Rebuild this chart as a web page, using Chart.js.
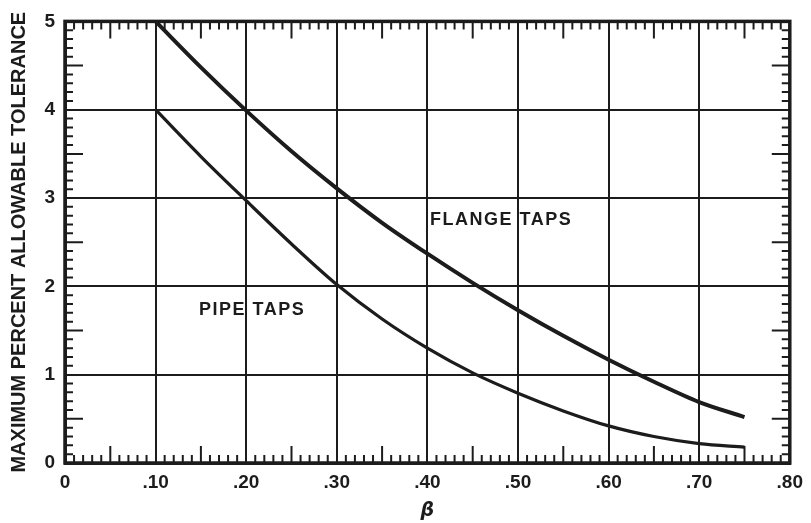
<!DOCTYPE html>
<html>
<head>
<meta charset="utf-8">
<script src="https://cdn.jsdelivr.net/npm/chart.js@4.4.1/dist/chart.umd.min.js"></script>
<style>
  html, body { margin: 0; padding: 0; background: #fff; }
  #wrap { width: 811px; height: 523px; }
</style>
</head>
<body>
<div id="wrap"><canvas id="toleranceChart" width="811" height="523"></canvas></div>
<script>
// values
let beta = [0.10, 0.15, 0.20, 0.25, 0.30, 0.35, 0.40, 0.45, 0.50, 0.55, 0.60, 0.65, 0.70, 0.75];
let flangeTaps = [5.00, 4.48, 3.99, 3.53, 3.11, 2.72, 2.37, 2.04, 1.73, 1.44, 1.17, 0.92, 0.69, 0.52];
let pipeTaps = [4.00, 3.47, 2.97, 2.48, 2.02, 1.63, 1.30, 1.02, 0.79, 0.59, 0.42, 0.30, 0.22, 0.18];

let xTickLabels = ['0', '.10', '.20', '.30', '.40', '.50', '.60', '.70', '.80'];
let yTickLabels = ['0', '1', '2', '3', '4', '5'];

const INK = '#1c1c1c';
const labelFont = { family: 'Liberation Sans, Arial, sans-serif', size: 19, weight: 'bold' };

function toPoints(xs, ys) {
    let pts = [];
    for (let i = 0; i < xs.length; i++) {
        pts.push({ x: xs[i], y: ys[i] });
    }
    return pts;
}

// small inward ticks on all four sides, plus the heavy frame and curve labels
const framePlugin = {
    id: 'framePlugin',
    afterDraw(chart) {
        const ctx = chart.ctx;
        const area = chart.chartArea;
        const xs = chart.scales.x;
        const ys = chart.scales.y;
        ctx.save();
        ctx.strokeStyle = INK;
        ctx.lineWidth = 2;
        ctx.beginPath();
        for (let i = 1; i < 80; i++) {
            if (i % 10 === 0) continue;
            let len = (i % 5 === 0) ? 17 : 8;
            let px = xs.getPixelForValue(i / 100);
            ctx.moveTo(px, area.bottom);
            ctx.lineTo(px, area.bottom - len);
            ctx.moveTo(px, area.top);
            ctx.lineTo(px, area.top + len);
        }
        for (let j = 1; j < 50; j++) {
            if (j % 10 === 0) continue;
            let len = (j % 5 === 0) ? 18 : 8;
            let py = ys.getPixelForValue(j / 10);
            ctx.moveTo(area.left, py);
            ctx.lineTo(area.left + len, py);
            ctx.moveTo(area.right, py);
            ctx.lineTo(area.right - len, py);
        }
        ctx.stroke();

        ctx.lineWidth = 3.5;
        ctx.strokeRect(area.left, area.top, area.right - area.left, area.bottom - area.top);

        ctx.fillStyle = INK;
        ctx.font = 'bold 18px "Liberation Sans", Arial, sans-serif';
        ctx.letterSpacing = '1.5px';
        ctx.textBaseline = 'middle';
        ctx.textAlign = 'left';
        ctx.fillText('FLANGE TAPS', xs.getPixelForValue(0.403), ys.getPixelForValue(2.75));
        ctx.fillText('PIPE TAPS', xs.getPixelForValue(0.148), ys.getPixelForValue(1.73));
        ctx.restore();
    }
};

const ctx = document.getElementById('toleranceChart');
const chart = new Chart(ctx, {
    type: 'line',
    data: {
        datasets: [
            {
                label: 'FLANGE TAPS',
                data: toPoints(beta, flangeTaps),
                borderColor: INK,
                borderWidth: 4,
                pointRadius: 0,
                cubicInterpolationMode: 'monotone',
                fill: false
            },
            {
                label: 'PIPE TAPS',
                data: toPoints(beta, pipeTaps),
                borderColor: INK,
                borderWidth: 3.2,
                pointRadius: 0,
                cubicInterpolationMode: 'monotone',
                fill: false
            }
        ]
    },
    options: {
        responsive: false,
        animation: false,
        layout: {
            padding: { top: 16, right: 18, bottom: 0, left: 0 }
        },
        plugins: {
            legend: { display: false },
            tooltip: { enabled: false }
        },
        scales: {
            x: {
                type: 'linear',
                min: 0,
                max: 0.8,
                afterFit: function(scale) { scale.height = 60; },
                ticks: {
                    stepSize: 0.1,
                    color: INK,
                    font: labelFont,
                    padding: 8,
                    maxRotation: 0,
                    callback: function(value) {
                        return xTickLabels[Math.round(value * 10)];
                    }
                },
                grid: { color: INK, lineWidth: 2, drawTicks: false },
                border: { color: INK, width: 3 },
                title: {
                    display: true,
                    text: 'β',
                    color: INK,
                    font: { family: 'DejaVu Sans, sans-serif', size: 19, weight: 'bold', style: 'italic' },
                    padding: { top: 0, bottom: 1 }
                }
            },
            y: {
                min: 0,
                max: 5,
                afterFit: function(scale) { scale.width = 65; },
                ticks: {
                    stepSize: 1,
                    color: INK,
                    font: labelFont,
                    padding: 10,
                    callback: function(value) {
                        return yTickLabels[Math.round(value)];
                    }
                },
                grid: { color: INK, lineWidth: 2, drawTicks: false },
                border: { color: INK, width: 3 },
                title: {
                    display: true,
                    text: 'MAXIMUM PERCENT ALLOWABLE TOLERANCE',
                    color: INK,
                    font: { family: 'Liberation Sans, Arial, sans-serif', size: 20, weight: 'bold' },
                    padding: { top: 7, bottom: 0 }
                }
            }
        }
    },
    plugins: [framePlugin]
});
</script>
</body>
</html>
